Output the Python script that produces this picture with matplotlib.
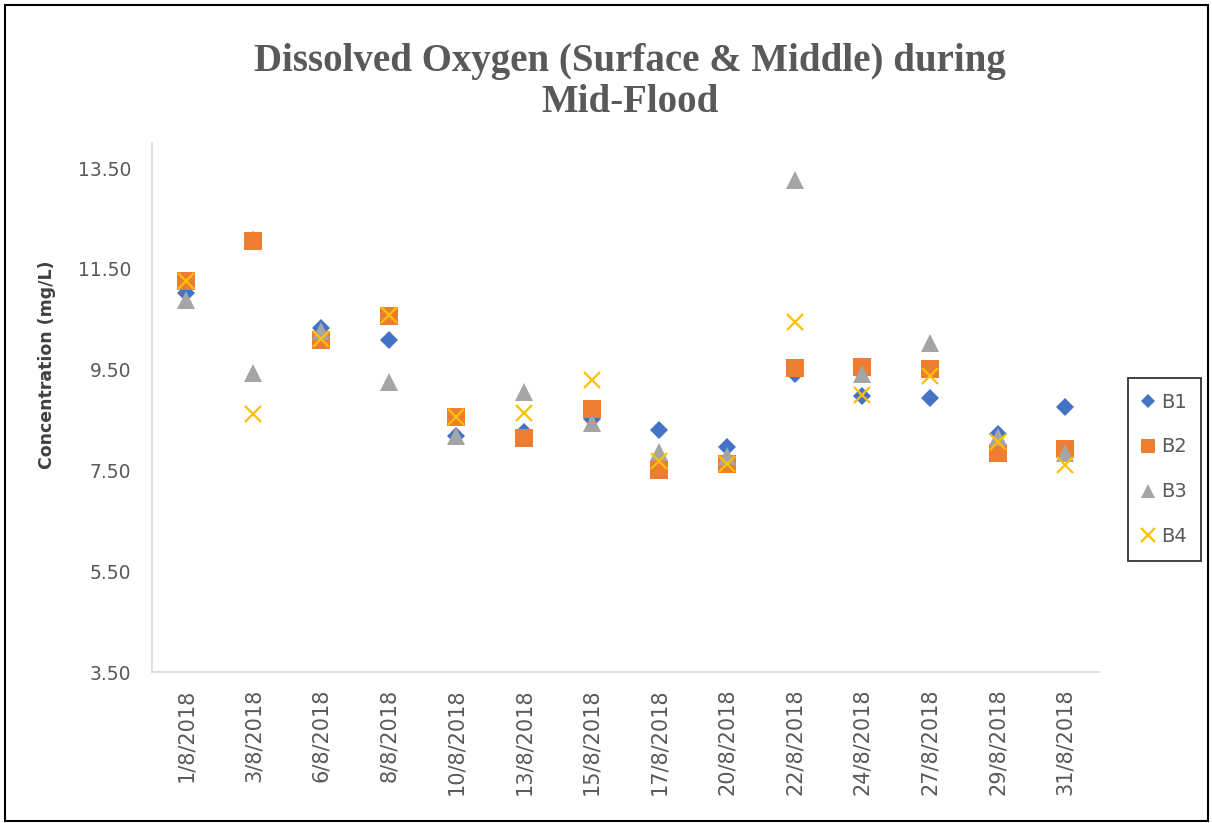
import matplotlib
matplotlib.use("Agg")
import matplotlib.pyplot as plt
from matplotlib.patches import Rectangle

dates = ["1/8/2018", "3/8/2018", "6/8/2018", "8/8/2018", "10/8/2018", "13/8/2018",
         "15/8/2018", "17/8/2018", "20/8/2018", "22/8/2018", "24/8/2018", "27/8/2018",
         "29/8/2018", "31/8/2018"]
b1 = [11.02, 12.07, 10.32, 10.08, 8.19, 8.26, 8.52, 8.30, 7.96, 9.42, 8.97, 8.93, 8.22, 8.75]
b2 = [11.26, 12.05, 10.09, 10.56, 8.56, 8.15, 8.73, 7.50, 7.62, 9.54, 9.56, 9.51, 7.84, 7.93]
b3 = [10.88, 9.44, 10.27, 9.25, 8.19, 9.06, 8.45, 7.86, 7.79, 13.27, 9.41, 10.03, 8.17, 7.85]
b4 = [11.26, 8.62, 10.10, 10.58, 8.56, 8.64, 9.29, 7.69, 7.63, 10.45, 8.99, 9.37, 8.06, 7.60]
yticks = [3.5, 5.5, 7.5, 9.5, 11.5, 13.5]

W, H = 1212, 823
fig = plt.figure(figsize=(W / 100, H / 100), dpi=100)
ax = fig.add_axes([152 / W, 1 - 672 / H, (1099 - 152) / W, (672 - 143) / H])

x = list(range(len(dates)))
ax.plot(x, b1, linestyle="none", marker="D", markersize=9, color="#4472C4",
        markeredgewidth=0, label="B1", zorder=3)
ax.plot(x, b2, linestyle="none", marker="s", markersize=12.5, color="#ED7D31",
        markeredgewidth=0, label="B2", zorder=4)
ax.plot(x, b3, linestyle="none", marker="^", markersize=12.8, color="#A5A5A5",
        markeredgewidth=0, label="B3", zorder=5)
ax.plot(x, b4, linestyle="none", marker="x", markersize=12, color="#FFC000",
        markeredgewidth=1.6, label="B4", zorder=6)

ax.set_xlim(-0.5, len(dates) - 0.5)
ax.set_ylim(3.5, 14.0)
ax.set_yticks(yticks)
ax.set_yticklabels([f"{v:.2f}" for v in yticks])
ax.set_xticks(x)
ax.set_xticklabels(dates, rotation=90)
ax.tick_params(axis="both", length=0, colors="#595959")
ax.tick_params(axis="y", labelsize=13.5, pad=15)
ax.tick_params(axis="x", labelsize=15, pad=12)
for s in ["top", "right"]:
    ax.spines[s].set_visible(False)
for s in ["left", "bottom"]:
    ax.spines[s].set_color("#D9D9D9")
    ax.spines[s].set_linewidth(1.2)

fig.text(47 / W, 1 - 365 / H, "Concentration (mg/L)", rotation=90, ha="center", va="center",
         fontsize=12.5, fontweight="bold", color="#404040")

fig.text(630 / W, 1 - 62 / H, "Dissolved Oxygen (Surface & Middle) during",
         ha="center", va="center", fontsize=28, fontweight="bold",
         family="Liberation Serif", color="#595959")
fig.text(630 / W, 1 - 103 / H, "Mid-Flood",
         ha="center", va="center", fontsize=28, fontweight="bold",
         family="Liberation Serif", color="#595959")

leg = fig.legend(loc="upper left", bbox_to_anchor=(1128 / W, 1 - 378 / H),
                 bbox_transform=fig.transFigure, borderaxespad=0, frameon=True,
                 fancybox=False, fontsize=14, labelspacing=1.33, handlelength=0.6,
                 handletextpad=0.35, borderpad=0.75, markerscale=0.8)
leg.get_frame().set_edgecolor("black")
leg.get_frame().set_linewidth(1.3)
for t in leg.get_texts():
    t.set_color("#595959")

fig.patches.append(Rectangle((5 / W, 2 / H), 1203 / W, 816 / H, transform=fig.transFigure,
                             fill=False, edgecolor="black", linewidth=1.5))

fig.savefig("out.png", dpi=100)
